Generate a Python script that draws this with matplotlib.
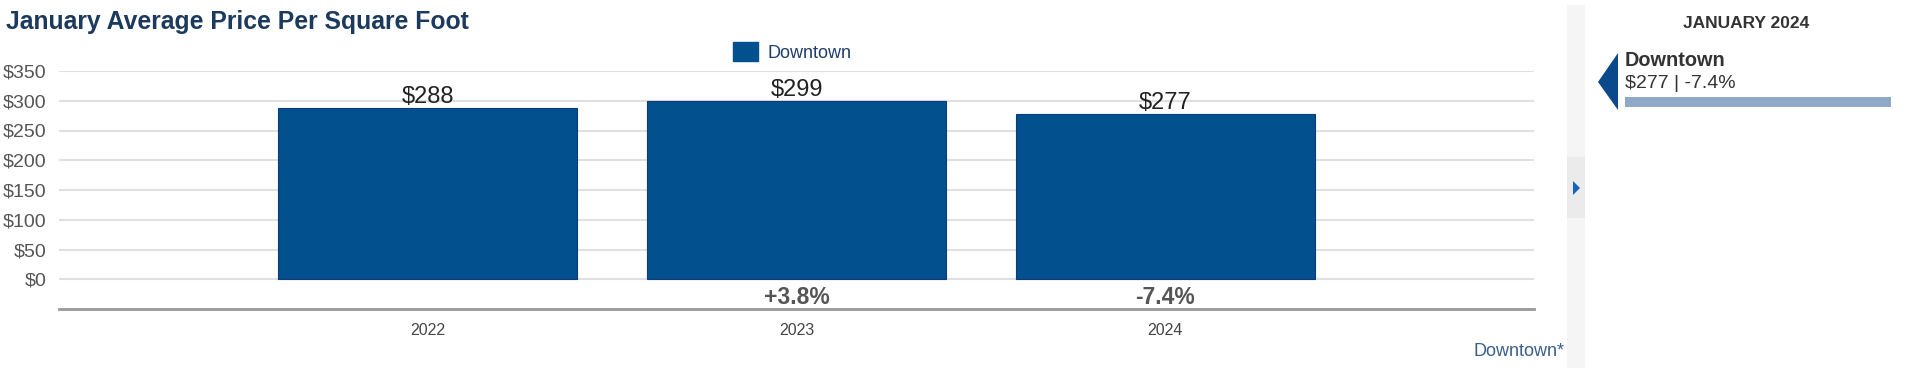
import matplotlib
matplotlib.use("Agg")
import matplotlib.pyplot as plt
from matplotlib.patches import Rectangle, Polygon, Patch

plt.rcParams['font.family'] = ['Liberation Sans', 'DejaVu Sans']

# data
years = ["2022", "2023", "2024"]
prices = [288, 299, 277]
changes = ["", "+3.8%", "-7.4%"]
series_name = "Downtown"
yticks = [0, 50, 100, 150, 200, 250, 300, 350]

W, H = 1920, 368
bar_color = "#03508f"

def fx(x):
    return x / W

def fy(y):
    return 1 - y / H

fig = plt.figure(figsize=(W / 100, H / 100), dpi=100)

# main plot area (pixel box 59..1534 x 71..309)
ax = fig.add_axes([fx(59), fy(309), fx(1534) - fx(59), fy(71) - fy(309)])
xs = list(range(len(years)))
ax.bar(xs, prices, width=0.81, color=bar_color, edgecolor="#0b3b7a", linewidth=0.8, zorder=3)
ax.set_xlim(-1, 3)
ax.set_ylim(-50, 350)

for s in ["top", "left", "right"]:
    ax.spines[s].set_visible(False)
ax.spines["bottom"].set_color("#999999")
ax.spines["bottom"].set_linewidth(2)

ax.set_yticks(yticks)
ax.set_yticklabels(["$%d" % v for v in yticks], fontsize=14, color="#555555")
ax.tick_params(axis="y", length=0, pad=9)
for v in yticks:
    ax.axhline(v, color="#e0e0e0", lw=1.5, zorder=1)

ax.set_xticks(xs)
ax.set_xticklabels(years, fontsize=11.5, color="#444444")
ax.tick_params(axis="x", length=0, pad=10)

for i, p in enumerate(prices):
    ax.annotate("$%d" % p, (i, p), xytext=(0, 0), textcoords="offset points",
                ha="center", va="bottom", fontsize=17, color="#222222")
    if changes[i]:
        ax.text(i, -31, changes[i], ha="center", va="center", fontsize=16.5,
                fontweight="bold", color="#555555")

# title
fig.text(fx(6), fy(22), "January Average Price Per Square Foot", fontsize=17.8,
         fontweight="bold", color="#1b3a5e", ha="left", va="center")

# legend
fig.legend(handles=[Patch(facecolor=bar_color, edgecolor=bar_color, label=series_name)],
           loc="center", bbox_to_anchor=(fx(792), fy(52)), frameon=False,
           fontsize=13, handlelength=1.4, handleheight=1.2, handletextpad=0.5,
           labelcolor="#1f3d6b")

fig.text(fx(1565), fy(352), series_name + "*", fontsize=13, color="#3a5f8f",
         ha="right", va="center")

# right side strip
fig.patches.append(Rectangle((fx(1567), 0), fx(1585) - fx(1567), fy(5), transform=fig.transFigure,
                             facecolor="#f5f5f5", edgecolor="none", zorder=0))
fig.patches.append(Rectangle((fx(1567), fy(218)), fx(1585) - fx(1567), fy(157) - fy(218),
                             transform=fig.transFigure, facecolor="#ebebeb", edgecolor="none", zorder=1))
fig.patches.append(Polygon([(fx(1573), fy(181)), (fx(1573), fy(195)), (fx(1580), fy(188))],
                           closed=True, transform=fig.transFigure, facecolor="#1565c0",
                           edgecolor="none", zorder=2))

# right side panel
fig.text(fx(1746), fy(23), "JANUARY " + years[-1], fontsize=12.5, fontweight="bold",
         color="#333333", ha="center", va="center")
fig.patches.append(Polygon([(fx(1618), fy(53)), (fx(1618), fy(110)), (fx(1598), fy(82))],
                           closed=True, transform=fig.transFigure, facecolor="#0a4a8c",
                           edgecolor="none"))
fig.text(fx(1625), fy(61), series_name, fontsize=14.3, fontweight="bold", color="#333333",
         ha="left", va="center")
fig.text(fx(1625), fy(84), "$%d | %s" % (prices[-1], changes[-1]), fontsize=14,
         color="#333333", ha="left", va="center")
fig.patches.append(Rectangle((fx(1625), fy(107)), fx(1891) - fx(1625), fy(97) - fy(107),
                             transform=fig.transFigure, facecolor="#90a9c6", edgecolor="none"))

fig.savefig("out.png", dpi=100)
